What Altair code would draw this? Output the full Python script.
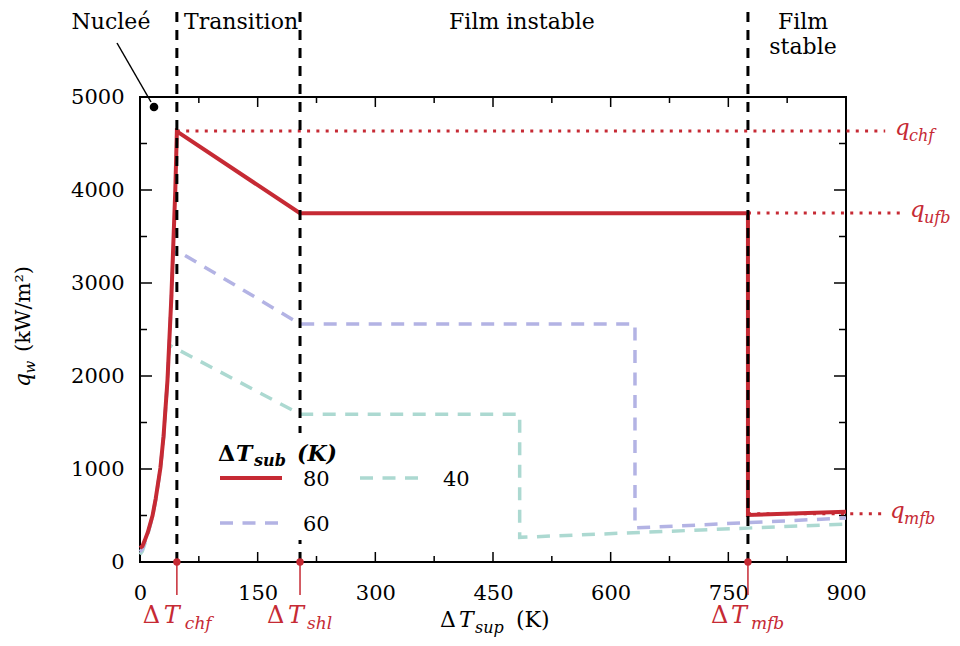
import altair as alt
import pandas as pd

# ---------------- data ----------------
series_names = ["80", "60", "40"]
series_colors = ["#c62a34", "#b3b3e4", "#acd9d1"]

dT_80 = [0, 3, 6, 10, 16, 20, 26, 30, 35, 40, 45, 47, 204, 775, 775, 900]
q_80 = [150, 170, 230, 320, 500, 680, 1010, 1350, 1950, 2850, 4000, 4630, 3750, 3750, 505, 540]

dT_60 = [0, 3, 6, 10, 16, 20, 26, 30, 35, 40, 42, 48, 204, 631, 631, 900]
q_60 = [110, 140, 210, 310, 495, 675, 1005, 1345, 1945, 2845, 3300, 3344, 2560, 2560, 366, 473]

dT_40 = [0, 3, 6, 10, 16, 20, 26, 30, 35, 37, 38, 204, 484, 484, 900]
q_40 = [80, 115, 190, 300, 490, 670, 1000, 1340, 1940, 2290, 2330, 1590, 1590, 265, 408]

dT_marks = [47, 204, 775]            # dT_chf, dT_shl, dT_mfb
dT_subs = ["chf", "shl", "mfb"]
q_levels = [4634, 3753, 520]         # q_chf, q_ufb, q_mfb
q_subs = ["chf", "ufb", "mfb"]
q_start = [47, 775, 775]
q_end = [950, 975, 950]

x_labels = [0, 150, 300, 450, 600, 750, 900]
y_labels = [0, 1000, 2000, 3000, 4000, 5000]
x_major = [150, 300, 450, 600, 750]
x_minor = [75, 225, 375, 525, 675, 825]
y_major = [1000, 2000, 3000, 4000]
y_minor = [500, 1500, 2500, 3500, 4500]

regions = ["Nucleé", "Transition", "Film instable", "Film", "stable"]

# ---------------- styling ----------------
W, H = 706, 465
FONT = "DejaVu Serif"
RED = series_colors[0]

xs = alt.Scale(domain=[0, 900], nice=False, zero=False)
ys = alt.Scale(domain=[0, 5000], nice=False, zero=False)
x_axis = alt.Axis(values=x_labels, title=None, labelPadding=20, tickSize=0, ticks=False,
                  domain=False, grid=False, labelFont=FONT, labelFontSize=21, format="d",
                  labelColor="black", labelAngle=0, labelFlush=False)
y_axis = alt.Axis(values=y_labels, title=None, labelPadding=16, tickSize=0, ticks=False,
                  domain=False, grid=False, labelFont=FONT, labelFontSize=21, format="d",
                  labelColor="black", labelFlush=False)


def X(f="x"):
    return alt.X(f"{f}:Q", scale=xs, axis=x_axis)


def Y(f="y"):
    return alt.Y(f"{f}:Q", scale=ys, axis=y_axis)


one = pd.DataFrame({"x": [0], "y": [0]})


def txt(text, x, y, size, xdata=None, ydata=None, dx=0, dy=0, italic=False,
        bold=False, color="black", align="left", baseline="alphabetic", angle=0):
    df = pd.DataFrame({"x": [xdata if xdata is not None else 0],
                       "y": [ydata if ydata is not None else 0]})
    kw = dict(text=text, font=FONT, fontSize=size, color=color, align=align,
              baseline=baseline, dx=dx, dy=dy, angle=angle)
    if italic:
        kw["fontStyle"] = "italic"
    if bold:
        kw["fontWeight"] = "bold"
    return alt.Chart(df).mark_text(**kw).encode(
        x=X() if xdata is not None else alt.value(x),
        y=Y() if ydata is not None else alt.value(y),
    )


layers = []

# axes anchor
layers.append(alt.Chart(one).mark_point(opacity=0).encode(x=X(), y=Y()))

# inward ticks
for vals, ln in [(x_major, 10), (x_minor, 6)]:
    d = pd.DataFrame({"x": vals})
    layers.append(alt.Chart(d).mark_rule(color="black", strokeWidth=1.5).encode(
        x=X(), y=alt.value(H), y2=alt.value(H - ln)))
    layers.append(alt.Chart(d).mark_rule(color="black", strokeWidth=1.5).encode(
        x=X(), y=alt.value(0), y2=alt.value(ln)))
for vals, ln in [(y_major, 12), (y_minor, 7)]:
    d = pd.DataFrame({"y": vals})
    layers.append(alt.Chart(d).mark_rule(color="black", strokeWidth=1.5).encode(
        y=Y(), x=alt.value(0), x2=alt.value(ln)))
    layers.append(alt.Chart(d).mark_rule(color="black", strokeWidth=1.5).encode(
        y=Y(), x=alt.value(W), x2=alt.value(W - ln)))

# red dotted reference levels
dq = pd.DataFrame({"x": q_start, "x2": q_end, "y": q_levels})
layers.append(alt.Chart(dq).mark_rule(color=RED, strokeWidth=3, strokeDash=[3, 6.3]).encode(
    x=X(), x2="x2:Q", y=Y()))

# series lines
for dT, q, col, dash, sw in [(dT_40, q_40, series_colors[2], [13, 9.5], 3.5),
                             (dT_60, q_60, series_colors[1], [13, 9.5], 3.5),
                             (dT_80, q_80, series_colors[0], None, 4)]:
    df = pd.DataFrame({"x": dT, "y": q, "i": list(range(len(dT)))})
    kw = dict(color=col, strokeWidth=sw, strokeCap="butt", strokeJoin="miter")
    if dash:
        kw["strokeDash"] = dash
    layers.append(alt.Chart(df).mark_line(**kw).encode(x=X(), y=Y(), order="i:Q"))

# black dashed regime boundaries
dm = pd.DataFrame({"x": dT_marks})
layers.append(alt.Chart(dm).mark_rule(color="black", strokeWidth=3, strokeDash=[10, 8]).encode(
    x=X(), y=alt.value(-85), y2=alt.value(H)))

# red markers under the x axis
layers.append(alt.Chart(dm).mark_rule(color=RED, strokeWidth=1.5).encode(
    x=X(), y=alt.value(H), y2=alt.value(H + 33)))
layers.append(alt.Chart(dm).mark_point(filled=True, color=RED, size=55, opacity=1).encode(
    x=X(), y=alt.value(H)))

# red labels Delta T_xxx
label_dx = [(-34, -13, 8), (-33, -12, 7), (-37, -17, 3)]
for xv, sub, (d1, d2, d3) in zip(dT_marks, dT_subs, label_dx):
    layers.append(txt("Δ", 0, 526, 24, xdata=xv, dx=d1, color=RED))
    layers.append(txt("T", 0, 526, 24, xdata=xv, dx=d2, color=RED, italic=True))
    layers.append(txt(sub, 0, 532, 17, xdata=xv, dx=d3, color=RED, italic=True))

# right labels q_xxx
q_x = [755, 770, 750]
for qv, sub, xq in zip(q_levels, q_subs, q_x):
    layers.append(txt("q", xq, 0, 23, ydata=qv, dy=4, color=RED, italic=True))
    layers.append(txt(sub, xq + 14, 0, 16, ydata=qv, dy=10, color=RED, italic=True))

# x axis title
layers.append(txt("Δ", 300, 530, 22))
layers.append(txt("T", 319, 530, 22, italic=True))
layers.append(txt("sup", 335, 536, 16, italic=True))
layers.append(txt("(K)", 376, 530, 22))

# y axis title (rotated)
layers.append(txt("q", -110, 283, 22, italic=True, align="center", angle=270))
layers.append(txt("w", -105, 270, 15, italic=True, align="center", angle=270))
layers.append(txt("(kW/m²)", -110, 212, 21, align="center", angle=270))

# region labels
reg_pos = [(-29, -75), (101, -75), (382, -75), (663, -75), (663, -50)]
for t, (px, py) in zip(regions, reg_pos):
    layers.append(txt(t, px, py, 22, align="center", baseline="middle"))

# Nucleé pointer
layers.append(alt.Chart(one).mark_rule(color="black", strokeWidth=1.5).encode(
    x=alt.value(-23), x2=alt.value(11), y=alt.value(-54), y2=alt.value(5)))
layers.append(alt.Chart(one).mark_point(filled=True, color="black", size=75, opacity=1).encode(
    x=alt.value(14), y=alt.value(10)))

# legend (background, title, entries)
layers.append(alt.Chart(one).mark_rect(color="white").encode(
    x=alt.value(68), x2=alt.value(345), y=alt.value(336), y2=alt.value(443)))
layers.append(txt("Δ", 78, 364, 22, bold=True))
layers.append(txt("T", 96, 364, 22, bold=True, italic=True))
layers.append(txt("sub", 114, 369, 16, bold=True, italic=True))
layers.append(txt("(K)", 157, 364, 22, bold=True, italic=True))

leg_pos = [(80, 381), (80, 426), (220, 381)]
for name, col, (lx, ly) in zip(series_names, series_colors, leg_pos):
    kw = dict(color=col, strokeWidth=4 if name == "80" else 3.5, strokeCap="butt")
    if name != "80":
        kw["strokeDash"] = [13, 9.5]
    layers.append(alt.Chart(one).mark_rule(**kw).encode(
        x=alt.value(lx), x2=alt.value(lx + 62), y=alt.value(ly)))
    layers.append(txt(name, lx + 83, ly + 2, 21, baseline="middle"))

chart = alt.layer(*layers).properties(
    width=W, height=H,
    autosize=alt.AutoSizeParams(type="none"),
    padding={"left": 132, "top": 89, "right": 106, "bottom": 76},
).configure_view(stroke="black", strokeWidth=2)

chart.save("out.html", embed_options={"renderer": "svg", "actions": False})
